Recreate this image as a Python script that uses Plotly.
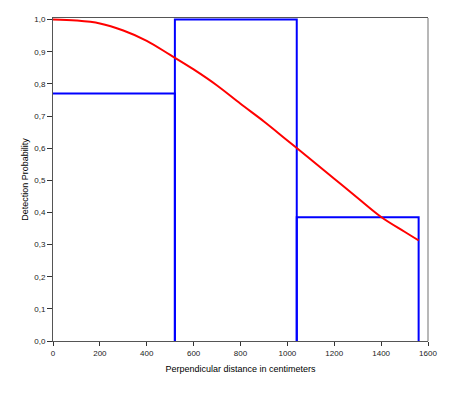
import plotly.graph_objects as go

# Histogram bins (perpendicular distance, cm) and scaled heights
bin_left = [0, 520, 1040]
bin_right = [520, 1040, 1560]
bin_height = [0.77, 1.0, 0.385]

# Fitted detection function
curve_x = [0, 100, 200, 300, 400, 500, 600, 700, 800, 900, 1000, 1100, 1200, 1300, 1400, 1500, 1560]
curve_y = [1.0, 0.997, 0.988, 0.966, 0.934, 0.89, 0.845, 0.795, 0.738, 0.683, 0.624, 0.565, 0.505, 0.445, 0.386, 0.34, 0.313]

x_ticks = [0, 200, 400, 600, 800, 1000, 1200, 1400, 1600]
y_ticks = [0.0, 0.1, 0.2, 0.3, 0.4, 0.5, 0.6, 0.7, 0.8, 0.9, 1.0]
y_ticklabels = ["0,0", "0,1", "0,2", "0,3", "0,4", "0,5", "0,6", "0,7", "0,8", "0,9", "1,0"]

# Build open-bottom bar outlines from the bin arrays
ox, oy = [], []
for l, r, h in zip(bin_left, bin_right, bin_height):
    if l > 0:
        ox += [l, l]
        oy += [0, h]
    else:
        ox += [l]
        oy += [h]
    ox += [r, r, None]
    oy += [h, 0, None]

fig = go.Figure()
fig.add_trace(go.Scatter(
    x=ox, y=oy, mode="lines",
    line=dict(color="#0000ff", width=2),
    showlegend=False, hoverinfo="skip",
))
fig.add_trace(go.Scatter(
    x=curve_x, y=curve_y, mode="lines",
    line=dict(color="#ff0000", width=2, shape="spline"),
    showlegend=False,
))

font = dict(family="Liberation Sans, Arial, sans-serif", size=8, color="#222")
fig.update_layout(
    width=451, height=393,
    margin=dict(l=53, r=23, t=18, b=52),
    paper_bgcolor="white", plot_bgcolor="white",
    font=font,
    xaxis=dict(
        range=[0, 1600], tickvals=x_ticks, ticktext=[str(v) for v in x_ticks],
        showgrid=False, zeroline=False, showline=True, linecolor="#555", linewidth=1,
        mirror=True, ticks="outside", ticklen=4, tickcolor="#333",
        title=dict(text="Perpendicular distance in centimeters", font=dict(size=9, color="#000"), standoff=9),
    ),
    yaxis=dict(
        range=[0, 1.005], tickvals=y_ticks, ticktext=y_ticklabels,
        showgrid=False, zeroline=False, showline=True, linecolor="#555", linewidth=1,
        ticks="outside", ticklen=5, tickcolor="#333",
        title=dict(text="Detection Probability", font=dict(size=9, color="#000"), standoff=4),
    ),
    shapes=[dict(type="line", xref="paper", yref="paper", x0=1, x1=1, y0=0, y1=1,
                 line=dict(color="#a0a0a0", width=1.5))],
)
fig.write_html("out.html", config={"displayModeBar": False},
               post_script="document.body.style.margin='0';")
